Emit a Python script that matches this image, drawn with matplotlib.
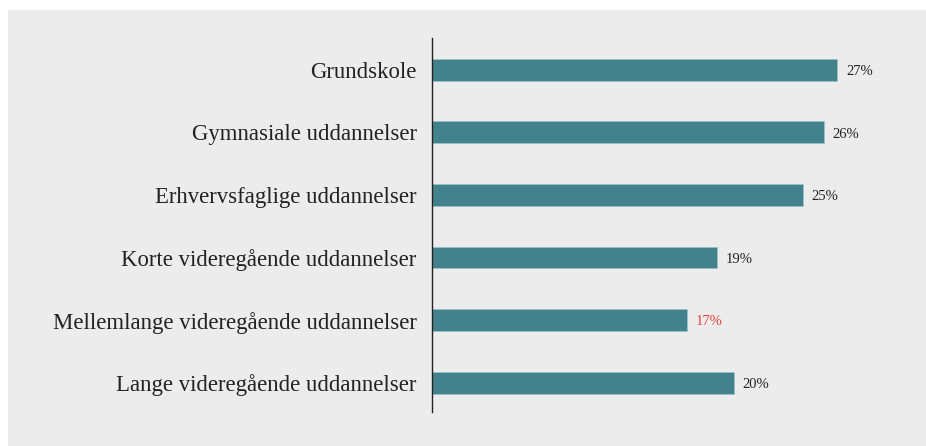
import matplotlib.pyplot as plt
from matplotlib.patches import Rectangle

# data
categories = ['Grundskole', 'Gymnasiale uddannelser', 'Erhvervsfaglige uddannelser',
              'Korte videregående uddannelser', 'Mellemlange videregående uddannelser',
              'Lange videregående uddannelser']
values = [27.0, 26.1, 24.7, 19.0, 17.0, 20.1]
value_labels = ['27%', '26%', '25%', '19%', '17%', '20%']
label_colors = ['#222222', '#222222', '#222222', '#222222', '#E8403C', '#222222']

plt.rcParams['font.family'] = ['Liberation Serif', 'DejaVu Serif']

fig = plt.figure(figsize=(9.26, 4.46), dpi=100)
fig.patch.set_facecolor('white')
# grey panel behind the chart
fig.add_artist(Rectangle((8 / 926, 0), 1, 1 - 10 / 446, transform=fig.transFigure,
                         facecolor='#ECECEC', edgecolor='none', zorder=-10))

ax = fig.add_axes([432 / 926, 1 - 412 / 446, 480 / 926, 374 / 446])
ax.set_facecolor('none')

ypos = list(range(len(categories)))
ax.barh(ypos, values, height=0.35, color='#41828C', edgecolor='#9BC0C6', linewidth=0.6)

for y, v, lab, c in zip(ypos, values, value_labels, label_colors):
    ax.text(v + 0.6, y + 0.03, lab, va='center', ha='left', fontsize=10.5, color=c)

ax.set_yticks(ypos)
ax.set_yticklabels(categories, fontsize=16.4, color='#222222')
ax.tick_params(axis='y', length=0, pad=11)
ax.set_ylim(5.47, -0.51)
ax.set_xlim(0, 32)
ax.set_xticks([])
for s in ['top', 'right', 'bottom']:
    ax.spines[s].set_visible(False)
ax.spines['left'].set_color('#222222')
ax.spines['left'].set_linewidth(1.0)

fig.savefig('out.png', dpi=100)
